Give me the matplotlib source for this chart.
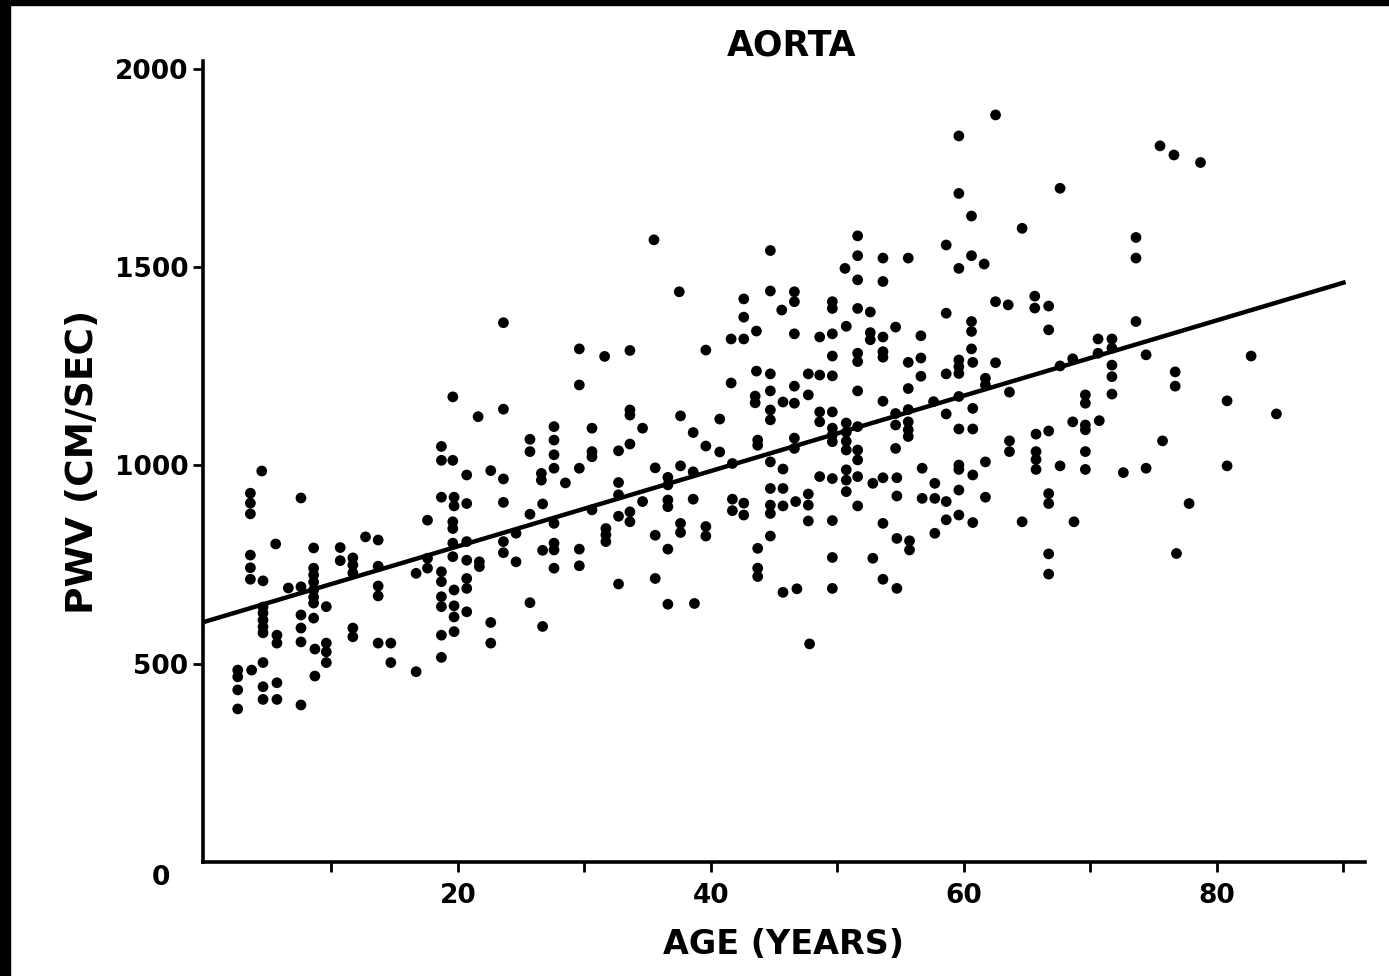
import numpy as np
import matplotlib.pyplot as plt
from matplotlib.patches import Rectangle

# grouped by age band (age in years, PWV in cm/sec)
age_a = [4.5, 3.6, 3.6, 3.6, 7.6, 12.7, 13.7, 5.6, 8.6, 10.7, 10.7, 11.7, 11.7, 13.7, 3.6, 3.6, 3.6, 4.6,
         8.6, 8.6, 8.6, 8.6, 8.6, 6.6, 7.6, 11.7, 13.7, 13.7, 8.6, 8.6, 9.6, 4.6, 4.6, 4.6, 4.6, 4.6,
         5.7, 5.7, 7.6, 7.6, 7.6, 8.7, 9.6, 9.6, 9.6, 11.7, 11.7, 13.7, 14.7, 14.7, 2.6, 2.6, 3.7, 4.6,
         2.6, 2.6, 4.6, 5.7, 4.6, 5.7, 8.7, 7.6]
pwv_a = [986, 930, 905, 878, 918, 820, 812, 802, 792, 793, 760, 767, 749, 746, 774, 742, 713, 709,
         741, 724, 706, 686, 668, 691, 694, 729, 696, 671, 653, 615, 644, 643, 628, 610, 593, 578,
         572, 552, 623, 590, 555, 537, 552, 530, 503, 590, 568, 552, 552, 503, 484, 467, 484, 503,
         434, 386, 442, 452, 410, 410, 469, 396]

age_b = [19.6, 21.6, 23.6, 27.6, 27.6, 27.6, 25.7, 25.7, 18.7, 18.7, 19.6, 20.7, 22.6, 23.6, 26.6, 26.6,
         27.6, 28.5, 18.7, 19.7, 19.7, 20.7, 23.6, 26.7, 25.7, 17.6, 19.6, 19.6, 27.6, 19.6, 20.7, 20.7,
         19.6, 24.6, 23.6, 23.6, 26.7, 27.6, 27.6, 21.7, 21.7, 24.6, 17.6, 17.6, 16.7, 27.6, 18.7, 18.7,
         20.7, 20.7, 19.7, 18.7, 18.7, 19.7, 19.7, 20.7, 25.7, 22.6, 26.7, 18.7, 19.7, 22.6, 18.7, 16.7,
         23.6]
pwv_b = [1173, 1123, 1142, 1098, 1064, 1027, 1066, 1035, 1048, 1013, 1013, 976, 987, 966, 980, 963,
         993, 956, 920, 920, 898, 904, 907, 903, 877, 862, 858, 841, 854, 804, 808, 761,
         770, 829, 808, 780, 786, 804, 787, 757, 745, 757, 766, 741, 728, 741, 732, 707,
         715, 690, 686, 669, 644, 646, 618, 631, 654, 604, 594, 572, 581, 552, 516, 480,
         1360]

age_c = [29.6, 31.6, 33.6, 39.6, 41.6, 29.6, 41.6, 33.6, 33.6, 37.6, 40.7, 30.6, 34.6, 38.6, 33.6, 39.6,
         30.6, 30.6, 32.7, 40.7, 29.6, 35.6, 37.6, 38.6, 36.6, 36.6, 32.7, 32.7, 41.7, 30.6, 34.6, 36.6,
         36.6, 38.6, 41.7, 41.7, 32.7, 33.6, 33.6, 31.7, 31.7, 31.7, 35.6, 37.6, 37.6, 39.6, 39.6, 29.6,
         29.6, 36.6, 32.7, 35.6, 36.6, 38.7, 35.5, 37.5]
pwv_c = [1294, 1275, 1290, 1291, 1319, 1203, 1208, 1140, 1127, 1125, 1117, 1094, 1094, 1083, 1054, 1049,
         1035, 1022, 1037, 1034, 993, 994, 999, 984, 970, 951, 957, 926, 1005, 888, 909, 913,
         896, 915, 915, 886, 872, 883, 858, 841, 825, 808, 824, 854, 831, 846, 822, 789,
         747, 789, 701, 715, 650, 652, 1569, 1438]

age_d = [51.6, 44.7, 51.6, 50.6, 51.6, 44.7, 46.6, 46.6, 42.6, 45.6, 49.6, 49.6, 51.6, 52.6, 42.6, 43.6,
         46.6, 42.6, 48.6, 49.6, 50.7, 52.6, 52.6, 49.6, 51.6, 51.6, 43.6, 44.7, 47.7, 48.6, 49.6, 46.6,
         43.5, 43.5, 44.7, 45.7, 46.6, 47.7, 51.6, 44.7, 44.7, 48.6, 48.6, 49.6, 43.7, 43.7, 46.6, 46.6,
         49.6, 49.6, 49.6, 50.7, 50.7, 50.7, 50.7, 51.6, 51.6, 51.6, 44.7, 45.7, 48.6, 49.6, 50.7, 50.7,
         50.7, 51.6, 52.8, 42.6, 42.6, 44.7, 45.7, 44.7, 44.7, 45.7, 46.7, 47.7, 47.7, 47.7, 49.6, 51.6,
         44.7, 43.7, 43.7, 43.7, 49.6, 52.8, 45.7, 46.8, 49.6, 47.8]
pwv_d = [1579, 1542, 1529, 1497, 1468, 1440, 1438, 1413, 1420, 1392, 1413, 1396, 1396, 1387, 1374, 1339,
         1332, 1319, 1324, 1332, 1351, 1335, 1317, 1276, 1283, 1262, 1238, 1231, 1231, 1228, 1226, 1200,
         1175, 1158, 1188, 1160, 1157, 1178, 1188, 1140, 1115, 1135, 1110, 1135, 1064, 1051, 1069, 1043,
         1094, 1077, 1060, 1107, 1084, 1061, 1039, 1098, 1039, 1014, 1009, 991, 972, 967, 989, 963,
         934, 972, 955, 905, 875, 942, 942, 900, 879, 898, 909, 928, 900, 860, 861, 898,
         822, 791, 741, 720, 768, 766, 680, 689, 690, 550]

age_e = [58.6, 60.6, 59.6, 61.6, 53.6, 55.6, 53.6, 62.5, 63.5, 58.6, 60.6, 60.6, 54.6, 53.6, 56.6, 53.6,
         53.6, 60.6, 56.6, 55.6, 59.6, 59.6, 59.6, 60.7, 62.5, 56.6, 58.6, 61.7, 61.7, 55.6, 53.6, 54.6,
         55.6, 57.6, 59.6, 58.6, 60.7, 54.6, 55.6, 55.6, 55.6, 59.6, 60.7, 54.6, 56.7, 59.6, 59.6, 61.7,
         60.7, 53.6, 54.7, 54.7, 57.7, 56.7, 57.7, 58.6, 59.6, 61.7, 53.6, 58.6, 59.6, 60.7, 54.7, 55.7,
         55.7, 57.7, 53.6, 54.7, 62.5, 59.6, 59.6, 60.6]
pwv_e = [1556, 1529, 1497, 1508, 1523, 1523, 1464, 1413, 1405, 1384, 1363, 1338, 1349, 1324, 1327, 1287,
         1273, 1294, 1271, 1260, 1266, 1249, 1232, 1260, 1259, 1225, 1231, 1220, 1203, 1194, 1162, 1131,
         1141, 1161, 1174, 1130, 1144, 1102, 1110, 1090, 1073, 1092, 1092, 1043, 993, 1001, 990, 1009,
         976, 969, 969, 923, 955, 917, 917, 909, 938, 920, 854, 863, 875, 856, 816, 810,
         787, 829, 713, 690, 1884, 1831, 1686, 1629]

age_f = [67.6, 64.6, 73.6, 73.6, 65.6, 65.6, 66.7, 66.7, 73.6, 70.6, 71.7, 70.6, 71.7, 68.6, 67.6, 74.4,
         71.7, 71.7, 71.7, 63.6, 69.6, 69.6, 68.6, 69.6, 69.6, 70.7, 63.6, 63.6, 65.7, 66.7, 65.7, 65.7,
         65.7, 67.6, 69.6, 69.6, 72.6, 74.4, 66.7, 66.7, 64.6, 68.7, 66.7, 66.7,
         75.5, 76.6, 78.7, 82.7, 76.7, 76.7, 80.8, 84.7, 75.7, 80.8, 77.8, 76.8]
pwv_f = [1699, 1598, 1575, 1523, 1427, 1397, 1402, 1342, 1363, 1319, 1319, 1283, 1296, 1269, 1251, 1279,
         1253, 1224, 1180, 1185, 1178, 1157, 1110, 1102, 1090, 1113, 1062, 1035, 1079, 1087, 1035, 1015,
         990, 999, 1035, 990, 982, 993, 929, 904, 858, 858, 777, 726,
         1806, 1783, 1764, 1276, 1236, 1200, 1163, 1130, 1062, 999, 904, 778]

# regression line as drawn
fit_intercept = 606
fit_slope = 9.5
fit_range = [0, 90]

ages = np.array(age_a + age_b + age_c + age_d + age_e + age_f)
pwv = np.array(pwv_a + pwv_b + pwv_c + pwv_d + pwv_e + pwv_f)

fig = plt.figure(figsize=(13.89, 9.76), dpi=100)
ax = fig.add_axes([0.1461, 0.1168, 0.8366, 0.8207])

ax.scatter(ages, pwv, s=60, color='black', edgecolors='none', zorder=3)
fx = np.array(fit_range)
ax.plot(fx, fit_intercept + fit_slope * fx, color='black', linewidth=3.2, zorder=4)

ax.set_xlim(-0.15, 91.7)
ax.set_ylim(0, 2020)
for s in ['top', 'right']:
    ax.spines[s].set_visible(False)
for s in ['left', 'bottom']:
    ax.spines[s].set_linewidth(2.6)

ax.set_xticks([10, 20, 30, 40, 50, 60, 70, 80, 90])
ax.set_xticklabels(['', '20', '', '40', '', '60', '', '80', ''])
ax.set_yticks([500, 1000, 1500, 2000])
ax.set_yticklabels(['500', '1000', '1500', '2000'])
ax.tick_params(axis='both', direction='out', width=2, length=7, labelsize=19)
ax.tick_params(axis='x', pad=8)
for lab in ax.get_xticklabels() + ax.get_yticklabels():
    lab.set_fontweight('bold')
ax.text(-3.5, -40, '0', ha='center', va='center', fontsize=19, fontweight='bold')

ax.set_xlabel('AGE (YEARS)', fontsize=24, fontweight='bold', labelpad=14)
ax.set_ylabel('PWV (CM/SEC)', fontsize=27, fontweight='bold', labelpad=10)
fig.text(0.57, 0.953, 'AORTA', ha='center', va='center', fontsize=25, fontweight='bold')

# black scan edges
fig.patches.append(Rectangle((0, 0.995), 1, 0.005, transform=fig.transFigure, color='black'))
fig.patches.append(Rectangle((0, 0), 0.007, 1, transform=fig.transFigure, color='black'))

plt.savefig('out.png', dpi=100)
